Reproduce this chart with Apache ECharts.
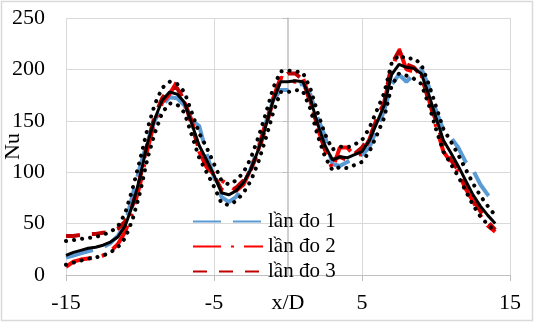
<!DOCTYPE html>
<html>
<head>
<meta charset="utf-8">
<script src="https://cdn.jsdelivr.net/npm/echarts@6/dist/echarts.min.js"></script>
<style>
html,body{margin:0;padding:0;background:#fff;}
#chart{width:535px;height:323px;}
</style>
</head>
<body>
<div id="chart"></div>
<script>
const xs = [-15,-14.5,-14,-13.5,-13,-12.5,-12,-11.5,-11,-10.5,-10,-9.5,-9,-8.5,-8,-7.5,-7,-6.5,-6,-5.5,-5,-4.5,-4,-3.5,-3,-2.5,-2,-1.5,-1,-0.5,0,0.5,1,1.5,2,2.5,3,3.5,4,4.5,5,5.5,6,6.5,7,7.5,8,8.5,9,9.5,10,10.5,11,11.5,12,12.5,13,13.5,14];
const lan1 = [17,19,21,23,25,27,31,38,49,78,105,130,150,165,173,172,165,150,145,118,95,76,71,76,88,104,125,148,170,180,180,184,186,176,153,135,108,106,110,114,117,124,142,160,185,195,188,195,201,184,160,141,134,124,110,102,88,78,70];
const lan2 = [8,13,15,16,17,19,23,30,42,62,88,122,150,168,176,188,168,150,120,105,98,92,88,82,88,104,122,148,172,192,190,188,192,170,143,122,103,124,124,116,118,132,152,168,200,220,200,198,195,172,145,120,110,100,84,72,58,48,42];
const lan3 = [38,38,39,40,40,41,42,45,52,68,94,128,155,172,182,182,170,145,122,110,97,83,80,85,92,103,120,144,170,190,196,196,190,168,145,122,112,115,112,118,124,134,150,168,205,218,205,202,194,170,150,128,112,102,88,74,62,52,44];
const meanNu = [19,22,24,26,27,29,32,37,48,68,95,128,152,170,178,176,168,147,126,112,97,80,78,82,90,103,122,145,170,188,188,189,188,172,147,126,112,115,114,117,120,131,148,165,195,205,202,201,196,176,153,131,119,106,92,78,67,58,50];
const upperNu = [33,34,35,36,37,39,42,47,60,84,112,142,166,182,188,186,178,158,138,124,108,92,88,92,100,114,134,157,182,198,199,198,197,182,158,137,122,125,124,127,131,143,160,177,206,214,210,211,205,186,164,142,130,117,103,89,77,67,58];
const lowerNu = [10,12,14,16,17,19,22,27,36,54,80,113,138,158,167,166,158,136,114,100,86,70,68,72,80,92,110,133,158,178,178,180,179,162,136,115,102,105,104,107,110,120,136,153,184,196,194,191,186,166,142,120,108,96,82,68,57,49,42];
const xTicks = {min: -15, max: 15, interval: 10};
const yTicks = {min: 0, max: 250, interval: 50};
const legendNames = ['lần đo 1', 'lần đo 2', 'lần đo 3'];

const pts = ys => xs.map((x, i) => [x, ys[i]]);
const font = '"Liberation Serif", "Times New Roman", serif';

const chart = echarts.init(document.getElementById('chart'), null, {renderer: 'canvas'});
chart.setOption({
  animation: false,
  backgroundColor: '#fff',
  graphic: [{
    type: 'rect', silent: true, z: -10,
    shape: {x: 1.5, y: 1.5, width: 531, height: 319},
    style: {fill: 'none', stroke: '#d9d9d9', lineWidth: 1.5}
  }],
  grid: {left: 66, right: 25, top: 18, bottom: 48, containLabel: false, outerBoundsMode: 'none'},
  legend: {
    data: legendNames,
    orient: 'vertical',
    left: 192, top: 209, padding: 0, itemGap: 0,
    itemWidth: 70, itemHeight: 14,
    itemStyle: {opacity: 0},
    textStyle: {fontFamily: font, fontSize: 21, color: '#000', lineHeight: 25}
  },
  xAxis: {
    type: 'value', min: xTicks.min, max: xTicks.max, interval: xTicks.interval,
    name: 'x/D', nameLocation: 'middle', nameGap: 17, nameMoveOverlap: false,
    nameTextStyle: {fontFamily: font, fontSize: 22, color: '#000', verticalAlign: 'top'},
    axisLine: {show: true, onZero: false, lineStyle: {color: '#bfbfbf', width: 1}},
    axisTick: {show: true, length: 6, lineStyle: {color: '#bfbfbf'}},
    axisLabel: {fontFamily: font, fontSize: 22, color: '#000', margin: 17},
    splitLine: {show: true, lineStyle: {color: '#d9d9d9', width: 1}}
  },
  yAxis: [{
    type: 'value', min: yTicks.min, max: yTicks.max, interval: yTicks.interval,
    name: 'Nu', nameLocation: 'middle', nameGap: 42, nameMoveOverlap: false,
    nameTextStyle: {fontFamily: font, fontSize: 22, color: '#000'},
    axisLine: {show: false, onZero: false},
    axisTick: {show: false},
    axisLabel: {fontFamily: font, fontSize: 22, color: '#000', margin: 21},
    splitLine: {show: true, lineStyle: {color: '#d9d9d9', width: 1}}
  }, {
    type: 'value', min: yTicks.min, max: yTicks.max, interval: yTicks.interval,
    position: 'left',
    axisLine: {show: true, onZero: true, onZeroAxisIndex: 0, lineStyle: {color: '#bfbfbf', width: 1.5}},
    axisTick: {show: true, length: 5, lineStyle: {color: '#bfbfbf'}},
    axisLabel: {show: false},
    splitLine: {show: false}
  }],
  series: [
    {name: legendNames[0], type: 'line', data: pts(lan1), showSymbol: false, symbol: 'none', z: 2,
     color: '#5B9BD5', lineStyle: {color: '#5B9BD5', width: 4, type: [28, 12]}},
    {name: legendNames[1], type: 'line', data: pts(lan2), showSymbol: false, symbol: 'none', z: 3,
     color: '#FF0000', lineStyle: {color: '#FF0000', width: 4, type: [28, 10, 3, 10]}},
    {name: legendNames[2], type: 'line', data: pts(lan3), showSymbol: false, symbol: 'none', z: 4,
     color: '#C00000', lineStyle: {color: '#C00000', width: 4, type: [14, 12]}},
    {name: 'upper', type: 'line', data: pts(upperNu), showSymbol: false, symbol: 'none', z: 5,
     lineStyle: {color: '#000', width: 4, type: [0.1, 8], cap: 'round'}},
    {name: 'lower', type: 'line', data: pts(lowerNu), showSymbol: false, symbol: 'none', z: 5,
     lineStyle: {color: '#000', width: 4, type: [0.1, 8], cap: 'round'}},
    {name: 'mean', type: 'line', data: pts(meanNu), showSymbol: false, symbol: 'none', z: 6,
     lineStyle: {color: '#000', width: 3}}
  ]
});
</script>
</body>
</html>
